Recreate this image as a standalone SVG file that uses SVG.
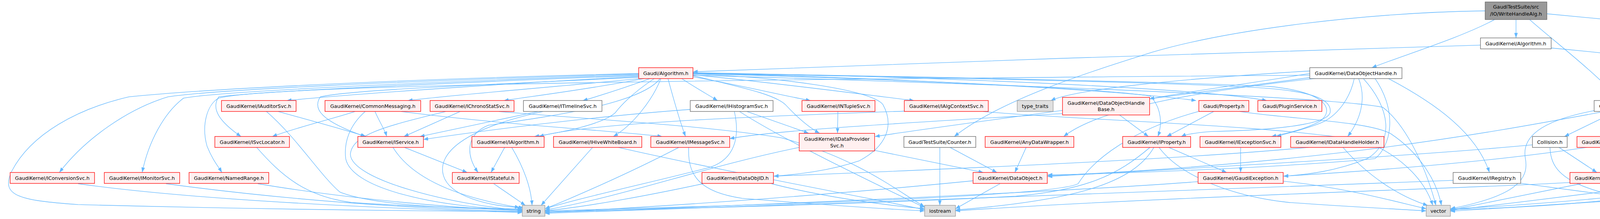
<svg xmlns="http://www.w3.org/2000/svg" width="5286" height="560" viewBox="0 0 5286 560">
<style>
.e{fill:none;stroke:#63b8ff;stroke-width:1.25}
.r{fill:#fff0f0;stroke:#ff0000;stroke-width:1.3}
.w{fill:#ffffff;stroke:#666666;stroke-width:1.3}
.g{fill:#e0e0e0;stroke:#999999;stroke-width:1.3}
.k{fill:#999999;stroke:#666666;stroke-width:1.3}
text{font-family:"DejaVu Sans","Liberation Sans",sans-serif;font-size:12.7px;fill:#000000;text-anchor:middle}
</style>
<defs>
<marker id="a" markerWidth="12" markerHeight="9" refX="12" refY="4.5" orient="auto" markerUnits="userSpaceOnUse"><path d="M0,0 L12,4.5 L0,9 z" fill="#63b8ff"/></marker>
</defs>
<rect width="5286" height="560" fill="#ffffff"/>
<g id="edges" transform="scale(1,1.0676)" marker-end="url(#a)">
<path class="e" d="M3881,47 L3881,91"/>
<path class="e" d="M3826,47 C3740,90 3600,130 3512,162"/>
<path class="e" d="M3916,47 C3980,100 4080,170 4148,241"/>
<path class="e" d="M3960,33 C4200,55 4500,80 4685,97"/>
<path class="e" d="M3802,26 C3500,30 3150,70 2950,125 C2780,175 2560,240 2443,327"/>
<path class="e" d="M3790,108 C3400,120 2300,150 1774,172"/>
<path class="e" d="M3971,115 C4150,130 4300,148 4409,162"/>
<path class="e" d="M4685,108 C4550,115 4380,150 4195,241"/>
<path class="e" d="M4685,112 C4480,125 4370,150 4368,220 C4366,270 4368,300 4368,327"/>
<path class="e" d="M4760,117 C4720,160 4705,220 4707,260 C4708,290 4710,310 4712,327"/>
<path class="e" d="M4772,117 C4771,135 4771,148 4772,162"/>
<path class="e" d="M4788,162 C4790,148 4790,132 4788,117"/>
<path class="e" d="M4796,117 C4830,160 4860,200 4883,241"/>
<path class="e" d="M4832,117 C4930,160 5020,210 5020,255 C5020,285 5000,310 4977,327"/>
<path class="e" d="M4855,117 C4940,140 5020,170 5080,260 C5120,320 5150,370 5170,405"/>
<path class="e" d="M4732,183 C4600,200 4400,225 4255,241"/>
<path class="e" d="M4776,188 C4760,240 4740,290 4727,327"/>
<path class="e" d="M4800,188 C4825,210 4850,225 4873,241"/>
<path class="e" d="M4558,188 C4650,250 4720,280 4850,290 C5000,295 5090,300 5085,340 C5075,400 4950,450 4800,480 C4680,495 4600,497 4541,497"/>
<path class="e" d="M4081,265 C3940,290 3895,330 3905,380 C3915,430 3880,470 3713,500"/>
<path class="e" d="M4108,267 C3800,320 3400,390 2682,421"/>
<path class="e" d="M4137,267 L4005,327"/>
<path class="e" d="M4159,267 L4123,327"/>
<path class="e" d="M4177,267 C4210,320 4205,370 4151,413"/>
<path class="e" d="M4254,258 C4420,275 4540,310 4565,360 C4590,420 4540,470 4500,492"/>
<path class="e" d="M4249,267 C4400,290 4530,310 4633,327"/>
<path class="e" d="M3991,353 L4088,413"/>
<path class="e" d="M3968,353 C3970,420 4020,470 4382,503"/>
<path class="e" d="M3923,347 C3600,375 3100,400 2682,423"/>
<path class="e" d="M4062,353 C3800,390 3500,410 3286,422"/>
<path class="e" d="M4113,353 L4117,413"/>
<path class="e" d="M4137,353 L4404,492"/>
<path class="e" d="M4335,353 L4166,413"/>
<path class="e" d="M4352,353 C4280,400 4250,450 4200,465 C4050,480 3850,495 3713,500"/>
<path class="e" d="M4387,353 C4420,400 4430,450 4420,492"/>
<path class="e" d="M4047,440 L3713,503"/>
<path class="e" d="M4174,440 L4395,492"/>
<path class="e" d="M4019,437 C3800,450 3000,470 2446,505"/>
<path class="e" d="M3720,432 C3300,450 2000,490 1395,511"/>
<path class="e" d="M3893,439 L4382,500"/>
<path class="e" d="M4612,347 C4450,375 4380,400 4320,440 C4250,480 3900,498 3713,502"/>
<path class="e" d="M4889,353 C4700,375 4400,395 4220,420"/>
<path class="e" d="M4889,353 C4600,400 4200,450 3713,504"/>
<path class="e" d="M4917,353 L4502,492"/>
<path class="e" d="M5085,427 C4800,445 4200,475 3713,506"/>
<path class="e" d="M5085,440 C4900,460 4700,485 4541,499"/>
<path class="e" d="M3350,353 C3100,375 2700,395 1981,422"/>
<path class="e" d="M3438,353 C3500,420 3580,470 3655,492"/>
<path class="e" d="M3353,170 C3000,190 2750,215 2690,241"/>
<path class="e" d="M3353,176 C3200,200 3000,225 2943,237"/>
<path class="e" d="M3368,188 C3000,225 2800,270 2723,327"/>
<path class="e" d="M3360,185 C3000,230 2500,290 2240,327"/>
<path class="e" d="M3353,180 C2000,190 700,200 560,235 C530,250 515,300 530,350 C545,385 560,400 568,413"/>
<path class="e" d="M3478,188 C3500,240 3480,290 3450,327"/>
<path class="e" d="M3467,188 C3455,240 3420,280 3380,295 C3340,310 3300,318 3268,327"/>
<path class="e" d="M3554,188 C3680,250 3780,320 3813,413"/>
<path class="e" d="M3490,188 C3560,260 3570,340 3500,380 C3420,410 3350,418 3286,422"/>
<path class="e" d="M3520,188 C3580,270 3560,350 3520,380 C3300,400 2900,415 2682,419"/>
<path class="e" d="M1635,176 C1000,190 500,215 330,232 C200,260 80,320 30,410 C0,470 50,480 200,490 C600,500 1000,505 1337,507"/>
<path class="e" d="M1635,177 C1000,195 550,215 430,232 C330,260 220,330 152,413"/>
<path class="e" d="M1635,179 C1000,200 560,220 470,235 C420,270 380,340 364,413"/>
<path class="e" d="M1635,181 C1100,200 650,220 560,232 C540,260 560,290 617,327"/>
<path class="e" d="M1635,183 C1300,200 900,225 734,241"/>
<path class="e" d="M1635,185 C1200,205 900,215 820,232 C800,260 820,290 935,327"/>
<path class="e" d="M1640,188 C1400,210 1150,228 1044,241"/>
<path class="e" d="M1650,188 C1500,215 1350,232 1290,241"/>
<path class="e" d="M1665,188 C1600,210 1540,228 1492,241"/>
<path class="e" d="M1675,188 C1640,210 1600,240 1575,270 C1540,300 1420,320 1368,327"/>
<path class="e" d="M1692,188 C1670,240 1620,300 1570,327"/>
<path class="e" d="M1710,188 C1725,240 1740,290 1755,327"/>
<path class="e" d="M1745,188 C1780,210 1815,228 1837,241"/>
<path class="e" d="M1774,184 C1900,205 2000,228 2075,241"/>
<path class="e" d="M1774,181 C1900,210 1980,225 2010,250 C2040,280 2070,305 2098,319"/>
<path class="e" d="M1774,179 C2000,200 2200,225 2340,241"/>
<path class="e" d="M1774,177 C2000,185 2230,215 2260,250 C2290,300 2270,350 2200,385 C2120,410 2040,418 1981,422"/>
<path class="e" d="M1774,176 C2300,190 2800,210 2945,230 C2975,260 2975,300 2964,327"/>
<path class="e" d="M1774,175 C2400,190 2900,220 3062,241"/>
<path class="e" d="M1774,174 C2500,185 3100,215 3243,241"/>
<path class="e" d="M1774,175 C2500,185 3100,200 3250,207 C3390,220 3420,260 3380,290 C3340,310 3300,318 3255,327"/>
<path class="e" d="M1774,176 C2400,185 3100,200 3250,212 C3380,222 3410,245 3405,270 C3395,300 3250,312 3100,315 C3060,318 3035,322 3024,327"/>
<path class="e" d="M1774,180 C2500,200 3400,230 3540,257 C3600,300 3650,400 3676,492"/>
<path class="e" d="M1690,188 C1640,250 1400,280 1250,300 C1195,320 1190,370 1224,413"/>
<path class="e" d="M712,267 C800,290 880,310 937,327"/>
<path class="e" d="M682,267 C760,330 820,420 870,460 C950,490 1150,500 1337,502"/>
<path class="e" d="M909,267 C850,285 760,305 697,327"/>
<path class="e" d="M960,267 C970,290 985,310 990,327"/>
<path class="e" d="M1027,267 C1300,300 1600,315 1695,327"/>
<path class="e" d="M935,267 C895,300 880,340 885,380 C900,450 1100,495 1337,503"/>
<path class="e" d="M1178,267 L1034,327"/>
<path class="e" d="M1141,267 C1000,300 900,320 897,370 C900,430 1150,490 1337,504"/>
<path class="e" d="M1277,267 C1500,285 1800,300 2000,330 C2200,380 2300,460 2367,495"/>
<path class="e" d="M1377,267 L1075,327"/>
<path class="e" d="M1390,267 C1180,310 1120,370 1135,420 C1150,470 1250,495 1340,497"/>
<path class="e" d="M1912,267 L2070,319"/>
<path class="e" d="M1893,267 C1980,320 2150,400 2367,497"/>
<path class="e" d="M1880,267 C1895,330 1880,380 1820,400 C1700,430 1500,470 1395,500"/>
<path class="e" d="M1768,262 C1500,280 1200,318 1084,334"/>
<path class="e" d="M2145,267 L2144,319"/>
<path class="e" d="M2322,266 C1900,280 1500,295 1380,327"/>
<path class="e" d="M2517,267 C2700,285 3300,300 3500,340 C3600,380 3650,440 3668,492"/>
<path class="e" d="M2864,274 L2940,327"/>
<path class="e" d="M2720,272 C2400,290 2000,310 1868,332"/>
<path class="e" d="M3107,267 L2987,327"/>
<path class="e" d="M3068,267 C2900,310 2800,380 2760,440 C2700,470 2000,490 1395,505"/>
<path class="e" d="M3174,267 C3300,285 3500,290 3560,320 C3640,370 3680,440 3690,492"/>
<path class="e" d="M2238,360 L2517,413"/>
<path class="e" d="M2046,353 C1800,400 1600,470 1395,503"/>
<path class="e" d="M2406,353 L2406,492"/>
<path class="e" d="M2432,353 L2552,413"/>
<path class="e" d="M2627,353 L2598,413"/>
<path class="e" d="M2992,353 L3140,413"/>
<path class="e" d="M2944,353 C2860,420 2780,455 2600,470 C2200,490 1700,500 1395,507"/>
<path class="e" d="M2954,353 C2900,440 2750,480 2446,503"/>
<path class="e" d="M2967,353 C3020,420 3150,470 3300,485 C3450,495 3560,500 3651,505"/>
<path class="e" d="M3176,353 L3176,413"/>
<path class="e" d="M3067,435 C2800,455 2000,490 1395,509"/>
<path class="e" d="M3285,434 C3450,450 3580,485 3651,500"/>
<path class="e" d="M2491,433 C2200,460 1800,490 1395,509"/>
<path class="e" d="M2560,440 L2446,500"/>
<path class="e" d="M1975,440 C2100,470 2250,490 2367,500"/>
<path class="e" d="M1800,440 C1650,470 1500,495 1395,505"/>
<path class="e" d="M660,440 C850,470 1100,495 1337,505"/>
<path class="e" d="M425,440 C700,475 1000,498 1337,507"/>
<path class="e" d="M200,440 C500,480 1000,500 1337,509"/>
<path class="e" d="M657,353 C720,420 780,470 900,485 C1100,497 1250,500 1337,500"/>
<path class="e" d="M1006,353 C1050,420 1150,470 1330,497"/>
<path class="e" d="M1035,353 L1196,413"/>
<path class="e" d="M1292,353 L1257,413"/>
<path class="e" d="M1310,353 C1340,400 1360,450 1362,492"/>
<path class="e" d="M1264,440 L1345,492"/>
<path class="e" d="M1517,353 L1385,492"/>
<path class="e" d="M1583,353 C1800,400 2200,470 2367,502"/>
<path class="e" d="M1738,353 C1600,420 1450,480 1395,500"/>
<path class="e" d="M1763,353 C1760,420 1790,460 1900,475 C2100,490 2250,500 2367,505"/>
</g>
<g id="n_root"><rect class="k" x="3802" y="5" width="158" height="45"/><text x="3881" y="22">GaudiTestSuite/src</text><text x="3881" y="39.5">/IO/WriteHandleAlg.h</text></g>
<g id="n_gkalg"><rect class="w" x="3790" y="97" width="181" height="28"/><text x="3880.5" y="115.5">GaudiKernel/Algorithm.h</text></g>
<g id="n_mytrack"><rect class="w" x="4685" y="97" width="190" height="28"/><text x="4780" y="115.5">GaudiTestSuite/MyTrack.h</text></g>
<g id="n_galg"><rect class="r" x="1635" y="173" width="139" height="28"/><text x="1704.5" y="191.5">Gaudi/Algorithm.h</text></g>
<g id="n_doh"><rect class="w" x="3353" y="173" width="236" height="28"/><text x="3471" y="191.5">GaudiKernel/DataObjectHandle.h</text></g>
<g id="n_tlc"><rect class="r" x="4410" y="173" width="247" height="28"/><text x="4533.5" y="191.5">GaudiKernel/ThreadLocalContext.h</text></g>
<g id="n_myvertex"><rect class="r" x="4732" y="173" width="96" height="28"/><text x="4780" y="191.5">MyVertex.h</text></g>
<g id="n_iauditor"><rect class="r" x="567" y="257" width="191" height="28"/><text x="662.5" y="275.5">GaudiKernel/IAuditorSvc.h</text></g>
<g id="n_commsg"><rect class="r" x="832" y="257" width="245" height="28"/><text x="954.5" y="275.5">GaudiKernel/CommonMessaging.h</text></g>
<g id="n_ichrono"><rect class="r" x="1101" y="257" width="215" height="28"/><text x="1208.5" y="275.5">GaudiKernel/IChronoStatSvc.h</text></g>
<g id="n_itimeline"><rect class="w" x="1340" y="257" width="201" height="28"/><text x="1440.5" y="275.5">GaudiKernel/ITimelineSvc.h</text></g>
<g id="n_ihisto"><rect class="w" x="1767" y="257" width="212" height="28"/><text x="1873" y="275.5">GaudiKernel/IHistogramSvc.h</text></g>
<g id="n_intuple"><rect class="r" x="2053" y="257" width="187" height="28"/><text x="2146.5" y="275.5">GaudiKernel/INTupleSvc.h</text></g>
<g id="n_ialgctx"><rect class="r" x="2315" y="257" width="215" height="28"/><text x="2422.5" y="275.5">GaudiKernel/IAlgContextSvc.h</text></g>
<g id="n_typetraits"><rect class="g" x="2604" y="257" width="92" height="28"/><text x="2650" y="275.5">type_traits</text></g>
<g id="n_dohbase"><rect class="r" x="2720" y="249" width="223" height="45"/><text x="2831.5" y="268">GaudiKernel/DataObjectHandle</text><text x="2831.5" y="284">Base.h</text></g>
<g id="n_property"><rect class="r" x="3069" y="257" width="128" height="28"/><text x="3133" y="275.5">Gaudi/Property.h</text></g>
<g id="n_plugin"><rect class="r" x="3220" y="257" width="164" height="28"/><text x="3302" y="275.5">Gaudi/PluginService.h</text></g>
<g id="n_event"><rect class="w" x="4081" y="257" width="173" height="28"/><text x="4167.5" y="275.5">GaudiTestSuite/Event.h</text></g>
<g id="n_keyed"><rect class="r" x="4784" y="257" width="218" height="28"/><text x="4893" y="275.5">GaudiKernel/KeyedContainer.h</text></g>
<g id="n_isvcloc"><rect class="r" x="550" y="349" width="191" height="28"/><text x="645.5" y="367.5">GaudiKernel/ISvcLocator.h</text></g>
<g id="n_iservice"><rect class="r" x="916" y="349" width="168" height="28"/><text x="1000" y="367.5">GaudiKernel/IService.h</text></g>
<g id="n_ialgorithm"><rect class="r" x="1208" y="349" width="185" height="28"/><text x="1300.5" y="367.5">GaudiKernel/IAlgorithm.h</text></g>
<g id="n_ihive"><rect class="r" x="1417" y="349" width="226" height="28"/><text x="1530" y="367.5">GaudiKernel/IHiveWhiteBoard.h</text></g>
<g id="n_imsg"><rect class="r" x="1666" y="349" width="202" height="28"/><text x="1767" y="367.5">GaudiKernel/IMessageSvc.h</text></g>
<g id="n_idataprov"><rect class="r" x="2046" y="341" width="193" height="45"/><text x="2142.5" y="359.5">GaudiKernel/IDataProvider</text><text x="2142.5" y="377">Svc.h</text></g>
<g id="n_counter"><rect class="w" x="2314" y="349" width="184" height="28"/><text x="2406" y="367.5">GaudiTestSuite/Counter.h</text></g>
<g id="n_anydata"><rect class="r" x="2522" y="349" width="227" height="28"/><text x="2635.5" y="367.5">GaudiKernel/AnyDataWrapper.h</text></g>
<g id="n_iproperty"><rect class="r" x="2874" y="349" width="174" height="28"/><text x="2961" y="367.5">GaudiKernel/IProperty.h</text></g>
<g id="n_iexcept"><rect class="r" x="3072" y="349" width="207" height="28"/><text x="3175.5" y="367.5">GaudiKernel/IExceptionSvc.h</text></g>
<g id="n_idhh"><rect class="r" x="3304" y="349" width="239" height="28"/><text x="3423.5" y="367.5">GaudiKernel/IDataHandleHolder.h</text></g>
<g id="n_collision"><rect class="w" x="3923" y="349" width="89" height="28"/><text x="3967.5" y="367.5">Collision.h</text></g>
<g id="n_time"><rect class="r" x="4037" y="349" width="149" height="28"/><text x="4111.5" y="367.5">GaudiKernel/Time.h</text></g>
<g id="n_contained"><rect class="r" x="4261" y="349" width="224" height="28"/><text x="4373" y="367.5">GaudiKernel/ContainedObject.h</text></g>
<g id="n_smartref"><rect class="r" x="4612" y="349" width="218" height="28"/><text x="4721" y="367.5">GaudiKernel/SmartRefVector.h</text></g>
<g id="n_objvec"><rect class="r" x="4855" y="349" width="199" height="28"/><text x="4954.5" y="367.5">GaudiKernel/ObjectVector.h</text></g>
<g id="n_iconv"><rect class="r" x="26" y="441" width="216" height="28"/><text x="134" y="459.5">GaudiKernel/IConversionSvc.h</text></g>
<g id="n_imonitor"><rect class="r" x="267" y="441" width="193" height="28"/><text x="363.5" y="459.5">GaudiKernel/IMonitorSvc.h</text></g>
<g id="n_namedrange"><rect class="r" x="484" y="441" width="204" height="28"/><text x="586" y="459.5">GaudiKernel/NamedRange.h</text></g>
<g id="n_istateful"><rect class="r" x="1158" y="441" width="171" height="28"/><text x="1243.5" y="459.5">GaudiKernel/IStateful.h</text></g>
<g id="n_dataobjid"><rect class="r" x="1797" y="441" width="183" height="28"/><text x="1888.5" y="459.5">GaudiKernel/DataObjID.h</text></g>
<g id="n_dataobject"><rect class="r" x="2491" y="441" width="190" height="28"/><text x="2586" y="459.5">GaudiKernel/DataObject.h</text></g>
<g id="n_gexcept"><rect class="r" x="3067" y="441" width="218" height="28"/><text x="3176" y="459.5">GaudiKernel/GaudiException.h</text></g>
<g id="n_iregistry"><rect class="w" x="3720" y="441" width="173" height="28"/><text x="3806.5" y="459.5">GaudiKernel/IRegistry.h</text></g>
<g id="n_streambuf"><rect class="r" x="4019" y="441" width="201" height="28"/><text x="4119.5" y="459.5">GaudiKernel/StreamBuffer.h</text></g>
<g id="n_shared"><rect class="r" x="5085" y="433" width="200" height="45"/><text x="5185" y="451">GaudiKernel/SharedObjects</text><text x="5185" y="468">Container.h</text></g>
<g id="n_string"><rect class="g" x="1337" y="525" width="58" height="28"/><text x="1366" y="543.5">string</text></g>
<g id="n_iostream"><rect class="g" x="2367" y="525" width="79" height="28"/><text x="2406.5" y="543.5">iostream</text></g>
<g id="n_vector"><rect class="g" x="3651" y="525" width="62" height="28"/><text x="3682" y="543.5">vector</text></g>
<g id="n_kernel"><rect class="w" x="4382" y="525" width="158" height="28"/><text x="4461" y="543.5">GaudiKernel/Kernel.h</text></g>
</svg>
